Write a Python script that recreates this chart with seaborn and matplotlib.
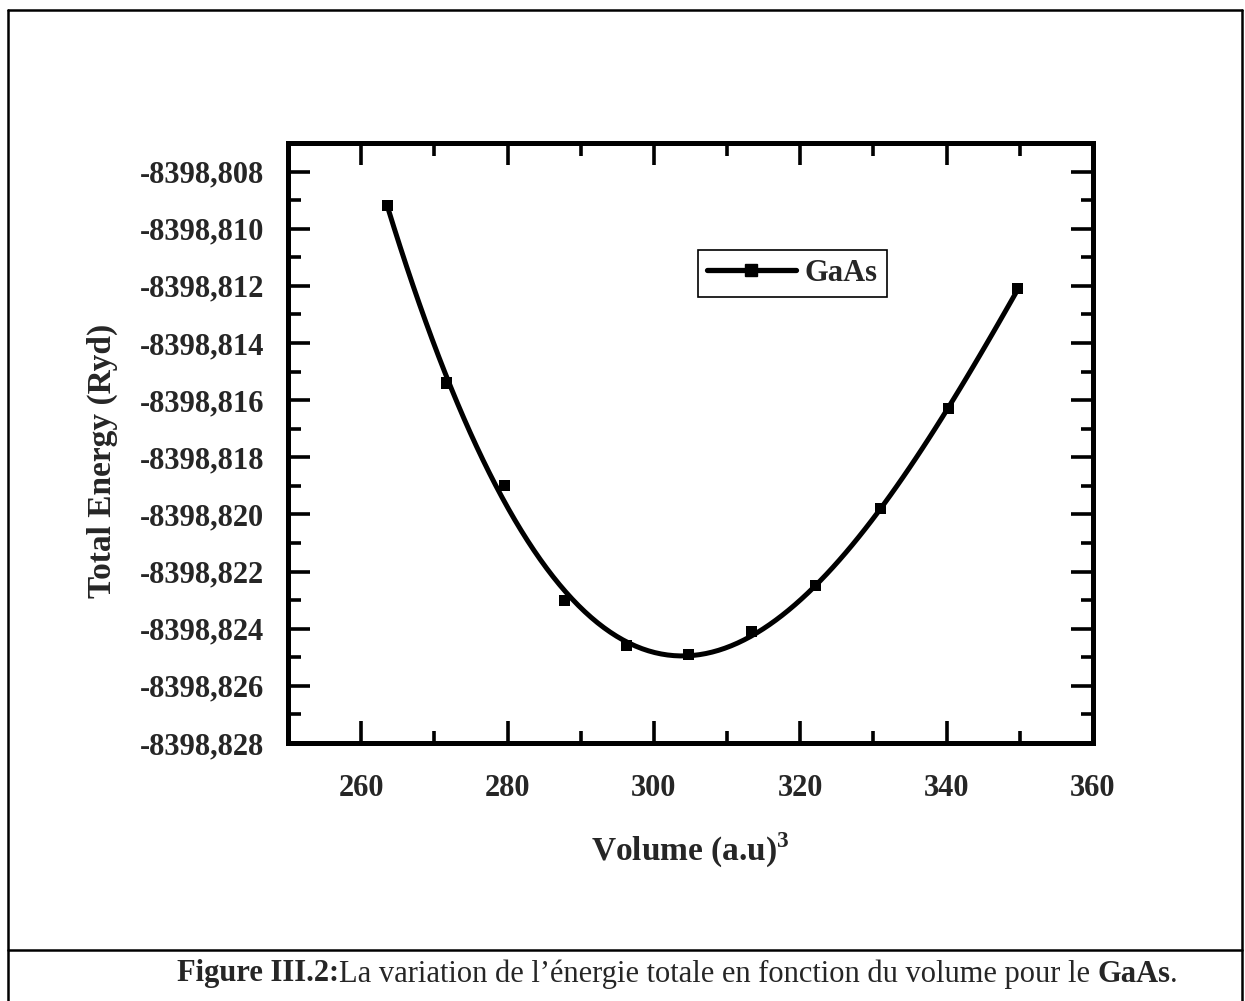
import numpy as np
import pandas as pd
import matplotlib
matplotlib.use("Agg")
import matplotlib.pyplot as plt
import seaborn as sns
from matplotlib.ticker import MultipleLocator, FuncFormatter
from matplotlib.lines import Line2D

# ---- data ----
volume = [263.6, 271.6, 279.6, 287.8, 296.2, 304.7, 313.3, 322.1, 331.0, 340.3, 349.7]
energy = [-8398.8092, -8398.8154, -8398.8190, -8398.8230, -8398.8246, -8398.8249,
          -8398.8241, -8398.8225, -8398.8198, -8398.8163, -8398.8121]
series_name = "GaAs"
x_label = "Volume (a.u)$^{\\mathbf{3}}$"
y_label = "Total Energy (Ryd)"
caption_parts = [("Figure III.2:", "bold"),
                 ("La variation de l\u2019\u00e9nergie totale en fonction du volume pour le ", "normal"),
                 ("GaAs", "bold"),
                 (".", "normal")]

df = pd.DataFrame({"Volume": volume, "Energy": energy})

sns.set_style("ticks")
plt.rcParams["font.family"] = ["Liberation Serif", "DejaVu Serif"]
plt.rcParams["mathtext.fontset"] = "custom"
plt.rcParams["mathtext.rm"] = "Liberation Serif"
plt.rcParams["mathtext.bf"] = "Liberation Serif:bold"
plt.rcParams["axes.linewidth"] = 3.6

W, H = 1245, 1001
fig = plt.figure(figsize=(W / 100, H / 100), dpi=100)
fig.patch.set_facecolor("white")

L, R, T, B = 288, 1093, 143, 743
ax = fig.add_axes([L / W, 1 - B / H, (R - L) / W, (B - T) / H])

# fitted smooth curve (seaborn polynomial fit) + markers
sns.regplot(data=df, x="Volume", y="Energy", order=4, ci=None, scatter=False,
            truncate=True, ax=ax, line_kws=dict(color="black", lw=3.6, solid_capstyle="butt"))
sns.scatterplot(data=df, x="Volume", y="Energy", marker="s", s=64, color="black",
                edgecolor="none", ax=ax, zorder=5)

ax.set_xlim(250, 360)
ax.set_ylim(-8398.828, -8398.807)
ax.xaxis.set_major_locator(MultipleLocator(20))
ax.xaxis.set_minor_locator(MultipleLocator(10))
ax.yaxis.set_major_locator(MultipleLocator(0.002))
ax.yaxis.set_minor_locator(MultipleLocator(0.001))
ax.yaxis.set_major_formatter(FuncFormatter(lambda v, p: f"{v:.3f}".replace(".", ",")))
ax.xaxis.set_major_formatter(FuncFormatter(lambda v, p: f"{v:.0f}"))

for s in ax.spines.values():
    s.set_linewidth(3.6)
    s.set_color("black")

ax.tick_params(which="both", direction="in", top=True, right=True, color="black")
ax.tick_params(which="major", length=16, width=2.6, labelsize=22)
ax.tick_params(which="minor", length=9, width=2.6)
ax.tick_params(axis="y", which="major", pad=17)
ax.tick_params(axis="x", which="major", pad=22)
for lab in ax.get_xticklabels() + ax.get_yticklabels():
    lab.set_fontweight("bold")

ax.set_xlabel(x_label, fontsize=24, fontweight="bold")
ax.set_ylabel(y_label, fontsize=24, fontweight="bold")
ax.xaxis.label.set_va("center")
ax.yaxis.label.set_va("center")
ax.xaxis.set_label_coords(0.5, (B - 850) / (B - T))
ax.yaxis.set_label_coords((102 - L) / (R - L), (B - 461) / (B - T))

handle = Line2D([], [], color="black", lw=3.8, marker="s", markersize=9)
leg = ax.legend([handle], [series_name], loc="upper left",
                bbox_to_anchor=(698 / W, 1 - 250 / H), bbox_transform=fig.transFigure,
                frameon=True, fancybox=False, framealpha=1, edgecolor="black",
                prop=dict(weight="bold", size=22), handlelength=2.9, handletextpad=0.3,
                borderpad=0.3, borderaxespad=0)
leg.get_frame().set_linewidth(1.2)

# outer page frame and caption separator
fl = 1.8
fig.add_artist(Line2D([8 / W, 8 / W], [0, 1 - 10 / H], transform=fig.transFigure, color="black", lw=fl))
fig.add_artist(Line2D([1242 / W, 1242 / W], [0, 1 - 10 / H], transform=fig.transFigure, color="black", lw=fl))
fig.add_artist(Line2D([8 / W, 1242 / W], [1 - 10 / H, 1 - 10 / H], transform=fig.transFigure, color="black", lw=fl))
fig.add_artist(Line2D([8 / W, 1242 / W], [1 - 950 / H, 1 - 950 / H], transform=fig.transFigure, color="black", lw=fl))

# caption built from bold / regular pieces
fig.canvas.draw()
r = fig.canvas.get_renderer()
texts = []
for s, w in caption_parts:
    t = fig.text(0, 1 - 974 / H, s, fontsize=22, fontweight=w, va="center", ha="left")
    texts.append(t)
widths = [t.get_window_extent(renderer=r).width for t in texts]
x = 1178 - sum(widths)
for t, wd in zip(texts, widths):
    t.set_x(x / W)
    x += wd

fig.savefig("out.png", dpi=100, facecolor="white")
